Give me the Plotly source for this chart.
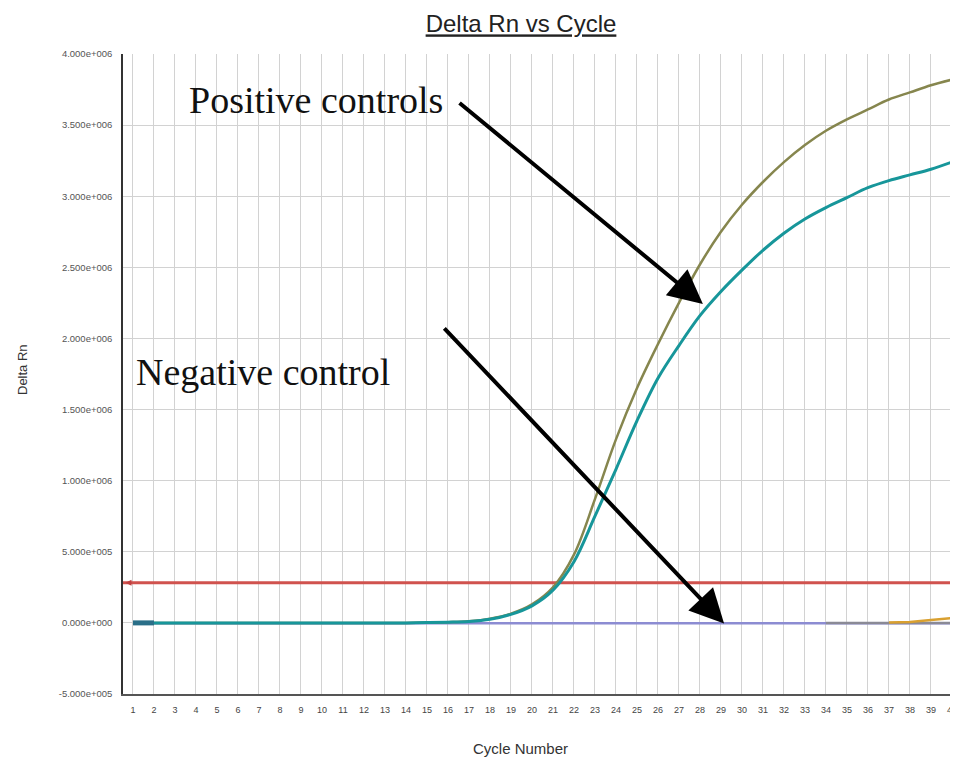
import plotly.graph_objects as go

cycles = list(range(1, 41))

positive_a = [0.0, 0.0, 0.0, 0.0, 0.0, 0.0, 0.0, 0.0, 0.0, 0.0,
              0.0, 0.0, 0.0, 0.0, 0.002, 0.005, 0.012, 0.03, 0.065, 0.13,
              0.25, 0.48, 0.87, 1.29, 1.65, 1.96, 2.25, 2.52, 2.75, 2.94,
              3.1, 3.24, 3.36, 3.46, 3.54, 3.61, 3.68, 3.73, 3.78, 3.82]
positive_b = [0.0, 0.0, 0.0, 0.0, 0.0, 0.0, 0.0, 0.0, 0.0, 0.0,
              0.0, 0.0, 0.0, 0.0, 0.002, 0.005, 0.01, 0.025, 0.06, 0.12,
              0.23, 0.43, 0.75, 1.08, 1.42, 1.72, 1.95, 2.16, 2.33, 2.48,
              2.62, 2.74, 2.84, 2.92, 2.99, 3.06, 3.11, 3.15, 3.19, 3.24]
negative = [-0.003] * 40
late_gray_cycles = [34, 35, 36, 37, 38, 39, 40]
late_gray = [-0.001, -0.001, 0.0, 0.0, 0.0, 0.0, 0.0]
late_orange_cycles = [37, 38, 39, 40]
late_orange = [0.002, 0.006, 0.02, 0.033]
start_cycles = [1, 2]
start_values = [0.0, 0.0]
threshold = 0.283

scale = 1e6
ytick_vals = [-5e5, 0, 5e5, 1e6, 1.5e6, 2e6, 2.5e6, 3e6, 3.5e6, 4e6]
ytick_text = ["-5.000e+005", "0.000e+000", "5.000e+005", "1.000e+006",
              "1.500e+006", "2.000e+006", "2.500e+006", "3.000e+006",
              "3.500e+006", "4.000e+006"]

label_pos = ("Positive controls", 9.7, 3.68e6)
label_neg = ("Negative control", 7.2, 1.765e6)
arrow_pos = (28.14, 2.243e6, 16.48, 3.664e6)
arrow_neg = (29.15, -0.005e6, 15.76, 2.082e6)

x_range = [0.524, 40.29]

# the page adds an 8px body margin, so the figure is sized/placed to compensate
W, H = 950, 753

fig = go.Figure()

fig.add_trace(go.Scatter(x=[x_range[0], x_range[1]], y=[threshold * scale] * 2,
                         mode="lines", line=dict(color="#D0524E", width=3),
                         hoverinfo="skip", showlegend=False))
fig.add_trace(go.Scatter(x=[x_range[0] + 0.12], y=[threshold * scale], mode="markers",
                         marker=dict(symbol="arrow-left", size=6, color="#C04040"),
                         showlegend=False, hoverinfo="skip"))
fig.add_trace(go.Scatter(x=cycles, y=[v * scale for v in negative], mode="lines",
                         line=dict(color="#8C8CD2", width=2.5), showlegend=False))
fig.add_trace(go.Scatter(x=late_gray_cycles, y=[v * scale for v in late_gray], mode="lines",
                         line=dict(color="#8A8A96", width=2.5), showlegend=False))
fig.add_trace(go.Scatter(x=late_orange_cycles, y=[v * scale for v in late_orange], mode="lines",
                         line=dict(color="#D9A030", width=2.5), showlegend=False))
fig.add_trace(go.Scatter(x=cycles, y=[v * scale for v in positive_a], mode="lines",
                         line=dict(color="#86864E", width=2.5, shape="spline", smoothing=1.0),
                         showlegend=False))
fig.add_trace(go.Scatter(x=cycles, y=[v * scale for v in positive_b], mode="lines",
                         line=dict(color="#17969A", width=3, shape="spline", smoothing=1.0),
                         showlegend=False))
fig.add_trace(go.Scatter(x=start_cycles, y=[v * scale for v in start_values], mode="lines",
                         line=dict(color="#2A6F88", width=5), showlegend=False))

fig.update_layout(
    width=W, height=H,
    margin=dict(l=115, r=0, t=46, b=67),
    paper_bgcolor="white", plot_bgcolor="white",
    font=dict(family="Liberation Sans, Arial, sans-serif", color="#333"),
    title=dict(text="<u>Delta Rn vs Cycle</u>", x=513 / W, xanchor="center",
               xref="container", y=1 - 16 / H, yanchor="middle", yref="container",
               font=dict(size=24, color="#222", family="Liberation Sans, Arial, sans-serif")),
    xaxis=dict(range=x_range, tickmode="array", tickvals=cycles,
               ticktext=[str(c) for c in cycles], showgrid=True,
               gridcolor="#d2d2d2", gridwidth=1, zeroline=False,
               showline=True, linecolor="#555", linewidth=2,
               ticks="outside", ticklen=6, tickcolor="rgba(0,0,0,0)",
               tickfont=dict(size=9, color="#444")),
    yaxis=dict(range=[-5e5, 4e6], tickmode="array", tickvals=ytick_vals,
               ticktext=ytick_text, showgrid=True, gridcolor="#d2d2d2",
               gridwidth=1, zeroline=False, showline=True, linecolor="#333",
               linewidth=1.5, ticks="outside", ticklen=7, tickcolor="rgba(0,0,0,0)",
               tickfont=dict(size=9.5, color="#555")),
)

fig.add_annotation(text="Cycle Number", xref="paper", yref="paper",
                   x=(520 - 123) / 835, y=-(748 - 694) / 640, xanchor="center",
                   yanchor="middle", showarrow=False,
                   font=dict(size=15, color="#333"))
fig.add_annotation(text="Delta Rn", xref="paper", yref="paper",
                   x=-(123 - 22) / 835, y=(694 - 370) / 640, xanchor="center",
                   yanchor="middle", showarrow=False, textangle=-90,
                   font=dict(size=13, color="#333"))

for txt, xx, yy in (label_pos, label_neg):
    fig.add_annotation(text=txt, x=xx, y=yy, xref="x", yref="y", showarrow=False,
                       xanchor="center", yanchor="middle",
                       font=dict(family="Liberation Serif, Times New Roman, serif",
                                 size=38, color="#111"))

for tx, ty, axx, ayy in (arrow_pos, arrow_neg):
    fig.add_annotation(text="", x=tx, y=ty, ax=axx, ay=ayy, xref="x", yref="y",
                       axref="x", ayref="y", showarrow=True, arrowhead=2,
                       arrowsize=1.7, arrowwidth=4, arrowcolor="#000", standoff=0)

fig.write_html("out.html")
